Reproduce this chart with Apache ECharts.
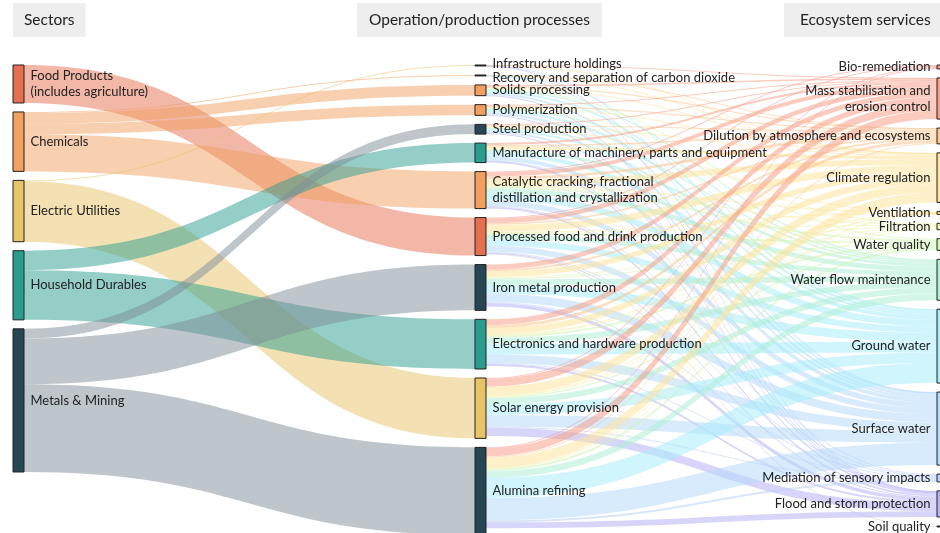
<!DOCTYPE html>
<html>
<head>
<meta charset="utf-8">
<script src="https://cdn.jsdelivr.net/npm/echarts@6/dist/echarts.min.js"></script>
<style>
  html, body { margin: 0; padding: 0; background: #fff; }
  #chart { width: 940px; height: 533px; }
</style>
</head>
<body>
<div id="chart"></div>
<script>
    // column 1: sectors
    var sectors = ['Food Products\n(includes agriculture)', 'Chemicals', 'Electric Utilities', 'Household Durables', 'Metals & Mining'];
    var sectorColors = ['#e5704f', '#f2a05f', '#e8c468', '#2a9d8f', '#264653'];
    var sectorFlowColors = ['#e5704f', '#f2a05f', '#e8c468', '#2a9d8f', '#7f8e98'];

    // column 2: operation / production processes
    var processes = ['Infrastructure holdings', 'Recovery and separation of carbon dioxide', 'Solids processing',
        'Polymerization', 'Steel production', 'Manufacture of machinery, parts and equipment',
        'Catalytic cracking, fractional\ndistillation and crystallization', 'Processed food and drink production',
        'Iron metal production', 'Electronics and hardware production', 'Solar energy provision', 'Alumina refining'];
    var processColors = ['#222', '#222', '#f2a05f', '#f2a05f', '#264653', '#2a9d8f', '#f2a05f', '#e5704f',
        '#264653', '#2a9d8f', '#e8c468', '#264653'];
    // the two hairline nodes sit close together, nudge their labels apart a little
    var processLabelShift = [-2, 2, 0, 0, 0, 0, 0, 0, 0, 0, 0, 0];

    // column 3: ecosystem services
    var services = ['Bio-remediation', 'Mass stabilisation and\nerosion control', 'Dilution by atmosphere and ecosystems',
        'Climate regulation', 'Ventilation', 'Filtration', 'Water quality', 'Water flow maintenance', 'Ground water',
        'Surface water', 'Mediation of sensory impacts', 'Flood and storm protection', 'Soil quality'];
    var serviceColors = ['#f49a9a', '#f5a089', '#fbc692', '#fde39c', '#fde59c', '#eef4b0', '#d2f4b6', '#aeefd6',
        '#aaedf9', '#b6dbf9', '#bccffa', '#b7b3f4', '#333333'];
    var serviceFlowColors = ['#f49a9a', '#f5a089', '#fbc692', '#fde39c', '#fde59c', '#eef4b0', '#d2f4b6', '#aeefd6',
        '#aaedf9', '#b6dbf9', '#bccffa', '#b7b3f4', '#cccccc'];

    // sector -> process  [sector, process, value]
    var sectorLinks = [
        [0, 7, 39],
        [1, 1, 1], [1, 2, 11], [1, 3, 11], [1, 6, 38],
        [2, 0, 1], [2, 10, 62],
        [3, 5, 20], [3, 9, 51],
        [4, 4, 10], [4, 8, 47], [4, 11, 90]
    ];

    // process -> service  [process, service, value]
    var serviceLinks = [
        [0, 1, 0.3], [0, 3, 0.2], [0, 9, 0.2], [0, 11, 0.3],
        [1, 2, 0.2], [1, 3, 0.2], [1, 8, 0.3], [1, 9, 0.3],
        [2, 1, 1.5], [2, 2, 1.5], [2, 3, 1], [2, 6, 1], [2, 7, 1.5], [2, 8, 2], [2, 9, 2], [2, 11, 0.5],
        [3, 1, 1], [3, 2, 1.5], [3, 3, 1], [3, 5, 0.5], [3, 7, 1.5], [3, 8, 2.5], [3, 9, 2.5], [3, 11, 0.5],
        [4, 1, 1], [4, 2, 1], [4, 3, 1], [4, 4, 0.5], [4, 7, 1.5], [4, 8, 2], [4, 9, 2], [4, 11, 1],
        [5, 1, 2], [5, 2, 1.5], [5, 3, 3], [5, 7, 3], [5, 8, 4], [5, 9, 4], [5, 10, 1], [5, 11, 1.5],
        [6, 0, 1], [6, 1, 4], [6, 2, 3], [6, 3, 6], [6, 4, 0.5], [6, 5, 1], [6, 6, 2], [6, 7, 5], [6, 8, 7],
        [6, 9, 5.5], [6, 10, 1], [6, 11, 2],
        [7, 0, 1], [7, 1, 5], [7, 2, 1.5], [7, 3, 7], [7, 4, 0.5], [7, 5, 1], [7, 6, 2], [7, 7, 4.5], [7, 8, 6.5],
        [7, 9, 6], [7, 10, 1], [7, 11, 1], [7, 12, 1],
        [8, 1, 5], [8, 2, 2], [8, 3, 6], [8, 5, 1], [8, 6, 1], [8, 7, 6], [8, 8, 9], [8, 9, 8.5], [8, 10, 1], [8, 11, 3.5],
        [9, 1, 6], [9, 2, 3], [9, 3, 6.5], [9, 4, 0.5], [9, 5, 1], [9, 6, 2], [9, 7, 6], [9, 8, 11], [9, 9, 9],
        [9, 10, 1], [9, 11, 2],
        [10, 0, 1], [10, 1, 8], [10, 3, 9], [10, 4, 0.5], [10, 5, 1], [10, 6, 1.5], [10, 7, 6], [10, 8, 11],
        [10, 9, 12], [10, 10, 1], [10, 11, 8.5],
        [11, 0, 1], [11, 1, 8.5], [11, 2, 1], [11, 3, 10], [11, 4, 0.5], [11, 5, 1], [11, 6, 2.5], [11, 7, 7],
        [11, 8, 20.5], [11, 9, 23], [11, 10, 2], [11, 11, 6]
    ];

    var nodes = [];
    sectors.forEach(function (name, i) {
        nodes.push({ name: name, depth: 0, itemStyle: { color: sectorColors[i] }, label: { position: 'right' } });
    });
    processes.forEach(function (name, i) {
        nodes.push({
            name: name, depth: 1, itemStyle: { color: processColors[i] },
            label: { position: 'right', offset: [0, processLabelShift[i]] }
        });
    });
    services.forEach(function (name, i) {
        nodes.push({ name: name, depth: 2, itemStyle: { color: serviceColors[i] }, label: { position: 'left' } });
    });

    var links = [];
    sectorLinks.forEach(function (l) {
        links.push({
            source: sectors[l[0]], target: processes[l[1]], value: l[2],
            lineStyle: { color: sectorFlowColors[l[0]], opacity: 0.5 }
        });
    });
    serviceLinks.forEach(function (l) {
        links.push({
            source: processes[l[0]], target: services[l[1]], value: l[2],
            lineStyle: { color: serviceFlowColors[l[1]], opacity: 0.55 }
        });
    });

    var headerStyle = { fontSize: 15.5, fontWeight: 'normal', color: '#222', fontFamily: 'Lato' };

    var myChart = echarts.init(document.getElementById('chart'));
    var option = {
        animation: false,
        title: [
            { text: 'Sectors', left: 13, top: 3, backgroundColor: '#eeeeee', padding: [9, 11], textStyle: headerStyle },
            { text: 'Operation/production processes', left: 357, top: 3, backgroundColor: '#eeeeee', padding: [9, 12], textStyle: headerStyle },
            { text: 'Ecosystem services', left: 784, top: 3, backgroundColor: '#eeeeee', padding: [9, 16], textStyle: headerStyle }
        ],
        series: [{
            type: 'sankey',
            left: 13,
            right: -8,
            top: 65,
            bottom: -2,
            nodeWidth: 11,
            nodeGap: 9,
            layoutIterations: 0,
            draggable: false,
            emphasis: { disabled: true },
            data: nodes,
            links: links,
            itemStyle: { borderColor: '#222', borderWidth: 1 },
            lineStyle: { curveness: 0.5 },
            label: { fontFamily: 'Lato', fontSize: 13, color: '#222', distance: 6, lineHeight: 16 }
        }]
    };
    myChart.setOption(option);
</script>
</body>
</html>
